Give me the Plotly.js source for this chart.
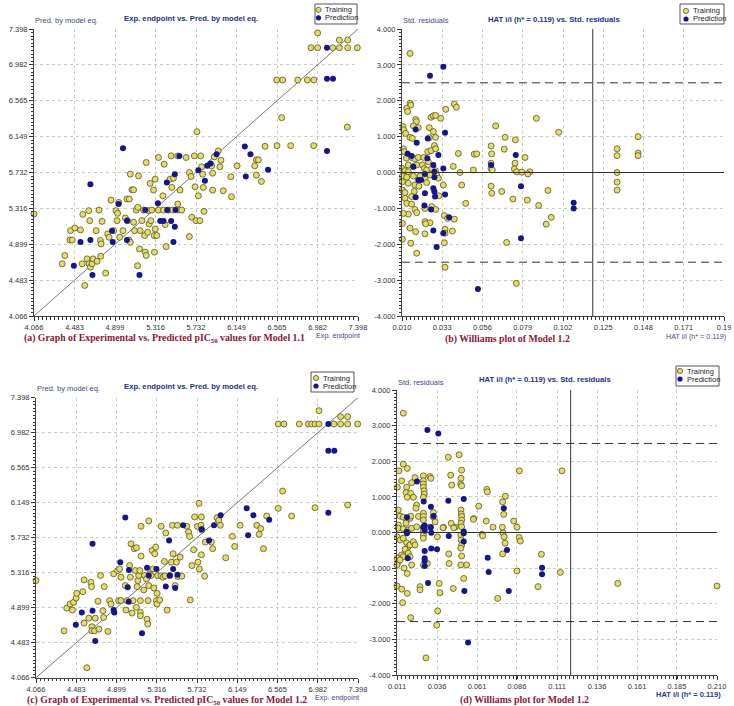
<!DOCTYPE html>
<html><head><meta charset="utf-8">
<script src="https://cdn.plot.ly/plotly-3.0.1.min.js"></script>
<style>html,body{margin:0;padding:0;background:#fff}#chart{width:734px;height:706px}</style>
</head><body><div id="chart"></div>
<script>
// ---------- DATA ----------
// (a) Model 1.1: [Exp. endpoint, Pred. by model eq.]
const trainA = [[6.983,7.352],[6.915,7.181],[6.983,7.181],[7.138,7.181],[7.206,7.270],[7.206,7.181],[7.292,7.270],[7.292,7.181],[7.391,7.181],
[6.562,6.806],[6.623,6.806],[6.778,6.806],[6.877,6.806],[6.945,6.806],[6.613,6.369],[7.288,6.260],[6.565,6.044],[6.706,6.044],[6.942,6.044],[5.742,6.206],
[4.066,5.25],[4.356,4.672],[4.383,4.768],[4.435,4.949],[4.459,4.949],[4.442,5.057],[4.486,5.088],[4.544,5.065],[4.561,4.672],[4.568,5.246],
[4.588,4.421],[4.612,4.729],[4.629,5.289],[4.639,5.173],[4.632,4.672],[4.646,4.633],[4.663,4.672],[4.674,4.729],[4.705,5.057],[4.715,4.701],
[4.735,5.296],[4.749,4.942],[4.756,4.903],[4.752,4.760],[4.766,5.165],[4.803,4.564],[4.824,5.019],[4.838,4.980],[4.858,5.412],[4.885,5.057],
[4.909,5.289],[4.926,5.258],[4.920,5.173],[4.947,4.980],[4.937,5.385],[4.981,5.057],[5.005,5.204],[5.022,5.424],[5.046,5.424],[5.029,5.173],
[5.042,4.949],[5.056,4.922],[5.056,5.713],[5.073,5.531],[5.090,5.531],[5.090,5.154],[5.100,5.057],[5.117,5.296],[5.134,5.327],[5.141,5.693],
[5.151,4.845],[5.131,4.649],[5.158,5.057],[5.175,5.173],[5.193,5.296],[5.204,5.000],[5.210,4.807],[5.220,4.768],[5.220,5.848],[5.234,5.038],
[5.244,5.289],[5.251,5.134],[5.261,5.605],[5.268,5.173],[5.278,5.296],[5.295,5.528],[5.302,5.000],[5.329,5.000],[5.305,4.807],[5.312,5.655],
[5.312,5.076],[5.346,5.906],[5.346,5.296],[5.391,5.462],[5.398,5.296],[5.405,5.828],[5.415,5.127],[5.425,4.872],[5.449,5.296],[5.466,5.655],
[5.483,5.558],[5.493,5.296],[5.500,5.666],[5.476,5.925],[5.544,5.925],[5.544,5.366],[5.558,5.296],[5.585,5.296],[5.568,5.528],[5.630,5.906],
[5.664,4.988],[5.664,5.732],[5.681,5.686],[5.688,5.212],[5.715,5.925],[5.722,5.566],[5.732,5.173],[5.756,5.462],[5.773,5.173],[5.780,5.925],
[5.790,5.798],[5.800,5.713],[5.807,5.558],[5.814,5.281],[5.893,5.809],[5.903,5.724],[5.903,5.528],[5.920,5.913],[5.961,5.983],[5.978,5.798],
[5.989,5.875],[6.012,5.520],[6.090,5.682],[6.097,5.451],[6.155,5.809],[6.336,5.809],[6.353,5.879],[6.374,5.879],[6.353,5.701],[6.405,5.628],[6.442,6.036]];
const predA = [[4.981,6.013],[4.646,5.597],[4.937,5.366],[4.476,4.649],[4.544,4.926],[4.646,4.949],[4.667,4.541],[4.868,5.057],[4.875,4.926],
[5.022,5.173],[5.022,4.949],[5.151,4.541],[5.210,5.296],[5.340,5.374],[5.364,5.169],[5.398,5.169],[5.432,5.616],[5.436,5.296],[5.476,5.169],
[5.500,4.926],[5.514,5.713],[5.514,5.103],[5.521,5.296],[5.561,5.925],[5.756,5.759],[5.824,5.636],[5.848,5.809],[5.882,5.836],[5.944,5.944],
[6.234,6.033],[6.244,5.686],[6.292,5.944],[6.473,5.763],[7.079,7.181],[7.079,6.821],[7.141,6.821],[7.079,5.982]];

// (b) Williams plot: [HAT i/i, Std. residuals]
const trainB = [[0.0146,3.32],[0.0146,1.93],[0.0150,1.88],[0.0127,1.79],[0.0132,1.70],[0.0399,1.91],[0.0411,1.82],[0.0350,1.76],[0.0266,1.54],
[0.0279,1.58],[0.0292,1.59],[0.0321,1.51],[0.0178,1.48],[0.0182,1.42],[0.0106,1.28],[0.0109,1.19],[0.0165,1.30],[0.0193,1.25],[0.0256,1.25],
[0.0279,1.14],[0.0121,1.09],[0.0146,0.98],[0.0159,0.95],[0.0292,0.98],[0.0256,0.97],[0.0635,1.30],[0.0689,0.98],[0.0748,0.91],[0.0609,0.74],
[0.0108,0.66],[0.0113,0.58],[0.0247,0.58],[0.0266,0.61],[0.0285,0.75],[0.0292,0.66],[0.0422,0.53],[0.0513,0.51],[0.0527,0.52],[0.0612,0.52],
[0.0684,0.65],[0.0803,0.42],[0.0746,0.26],[0.0125,0.40],[0.0155,0.42],[0.0174,0.38],[0.0193,0.42],[0.0224,0.42],[0.0250,0.30],[0.0136,0.21],
[0.0165,0.17],[0.0184,0.21],[0.0393,0.17],[0.0216,0.21],[0.0102,0.11],[0.0117,0.05],[0.0136,0.02],[0.0228,0.11],[0.0241,0.07],[0.0270,0.11],
[0.0292,0.05],[0.0431,0.00],[0.0508,0.07],[0.0609,0.11],[0.0616,0.07],[0.0609,0.26],[0.0742,0.10],[0.0755,0.02],[0.0784,0.01],[0.0102,-0.10],
[0.0127,-0.13],[0.0165,-0.10],[0.0203,-0.10],[0.0231,-0.16],[0.0260,-0.07],[0.0298,-0.07],[0.0308,-0.16],[0.0102,-0.26],[0.0136,-0.30],
[0.0174,-0.35],[0.0197,-0.38],[0.0241,-0.28],[0.0336,-0.35],[0.0441,-0.35],[0.0609,-0.38],[0.0613,-0.58],[0.0102,-0.49],[0.0117,-0.56],
[0.0170,-0.53],[0.0155,-0.67],[0.0311,-0.65],[0.0670,-0.53],[0.0734,-0.74],[0.0464,-0.86],[0.0117,-0.72],[0.0127,-0.86],[0.0155,-0.88],
[0.0174,-1.03],[0.0231,-1.00],[0.0270,-0.95],[0.0292,-1.03],[0.0136,-1.16],[0.0108,-1.14],[0.0184,-1.12],[0.0102,-1.42],[0.0231,-1.37],
[0.0260,-1.40],[0.0235,-1.43],[0.0342,-1.20],[0.0361,-1.28],[0.0399,-1.30],[0.0146,-1.55],[0.0178,-1.65],[0.0231,-1.71],[0.0346,-1.58],
[0.0346,-1.69],[0.0388,-1.63],[0.0102,-1.86],[0.0150,-1.97],[0.0342,-1.96],[0.0698,-1.95],[0.0184,-2.25],[0.0346,-2.64],[0.0868,1.51],
[0.0995,1.12],[0.1329,0.66],[0.1329,0.47],[0.1329,0.00],[0.1449,1.00],[0.1449,0.54],[0.1449,0.47],[0.0831,0.02],[0.0819,-0.04],[0.1329,-0.27],
[0.1329,-0.49],[0.0934,-0.50],[0.0881,-0.92],[0.0816,-0.77],[0.0924,-1.44],[0.0953,-1.25],[0.0753,-3.09],[0.1942,-1.62]];
const predB = [[0.0336,2.95],[0.0260,2.70],[0.0178,1.20],[0.0346,1.11],[0.0247,0.95],[0.0184,0.83],[0.0132,0.52],[0.0155,0.46],[0.0245,0.40],
[0.0308,0.49],[0.0609,0.21],[0.0750,0.49],[0.0279,0.21],[0.0336,0.11],[0.0165,0.16],[0.0285,0.02],[0.0193,-0.21],[0.0209,-0.21],[0.0285,-0.13],
[0.0231,-0.04],[0.0279,-0.44],[0.0285,-0.53],[0.0178,-0.69],[0.0231,-0.58],[0.0346,-0.61],[0.0289,-0.67],[0.0228,-0.92],[0.0266,-1.03],
[0.0369,-1.25],[0.0279,-1.62],[0.0336,-1.69],[0.0298,-2.08],[0.0780,-0.38],[0.0780,-1.83],[0.0534,-3.25],[0.1081,-0.84],[0.1081,-1.00]];

// (c) Model 1.2: [Exp. endpoint, Pred. by model eq.]
const trainC = [[6.994,7.243],[6.573,7.085],[6.632,7.085],[6.791,7.085],[6.884,7.085],[6.918,7.085],[6.953,7.085],[6.994,7.085],[7.149,7.085],
[7.218,7.085],[7.291,7.085],[7.394,7.085],[7.218,7.172],[7.291,7.172],[6.618,6.287],[6.573,6.081],[6.953,6.089],[7.291,6.121],[5.753,6.141],
[6.711,5.990],[6.453,5.990],[4.066,5.222],[4.357,4.624],[4.384,4.895],[4.443,4.871],[4.419,4.943],[4.454,4.963],[4.481,5.015],[4.488,5.070],
[4.550,5.090],[4.564,5.230],[4.564,4.716],[4.592,4.185],[4.613,4.775],[4.634,5.202],[4.641,5.150],[4.644,4.672],[4.644,4.624],[4.672,4.624],
[4.679,4.775],[4.707,4.975],[4.717,4.644],[4.734,5.282],[4.758,4.863],[4.765,4.783],[4.772,5.150],[4.810,4.616],[4.828,4.983],[4.842,4.943],
[4.869,5.302],[4.911,5.341],[4.921,4.983],[4.945,4.983],[4.931,5.361],[4.945,5.262],[4.990,5.162],[4.997,4.871],[5.008,4.983],[5.035,5.401],
[5.042,5.262],[5.049,5.660],[5.060,4.835],[5.070,4.983],[5.084,5.601],[5.105,5.613],[5.094,5.341],[5.105,4.903],[5.112,5.150],[5.119,5.222],
[5.129,5.282],[5.140,5.341],[5.146,4.983],[5.146,4.843],[5.146,4.803],[5.153,5.868],[5.153,5.513],[5.181,5.110],[5.188,5.282],[5.209,5.242],
[5.215,4.763],[5.222,4.704],[5.226,4.983],[5.233,5.931],[5.233,5.162],[5.243,5.302],[5.257,5.282],[5.267,5.581],[5.278,5.361],[5.285,5.134],
[5.305,5.620],[5.295,5.541],[5.312,4.983],[5.319,4.943],[5.319,5.070],[5.326,5.282],[5.346,4.991],[5.361,5.868],[5.361,5.278],[5.381,5.262],
[5.395,5.449],[5.402,5.278],[5.409,5.788],[5.423,4.871],[5.451,5.282],[5.468,5.441],[5.478,5.880],[5.485,5.541],[5.506,5.162],[5.520,5.441],
[5.530,5.880],[5.534,5.270],[5.558,5.501],[5.575,5.274],[5.627,5.868],[5.645,5.800],[5.655,5.748],[5.662,4.991],[5.679,5.401],[5.697,5.589],
[5.707,5.979],[5.735,5.868],[5.742,5.441],[5.756,5.361],[5.773,5.880],[5.777,5.979],[5.777,5.529],[5.783,5.824],[5.811,5.274],[5.818,5.680],
[5.880,5.680],[5.894,5.601],[5.939,5.971],[5.957,5.939],[5.974,5.880],[6.029,5.493],[6.098,5.748],[6.122,5.628],[6.178,5.880],[6.351,5.880],
[6.392,5.840],[6.375,5.772],[6.420,5.601]];
const predC = [[4.990,5.971],[4.651,5.660],[4.938,5.441],[5.028,5.349],[5.015,5.142],[4.478,4.696],[4.540,4.843],[4.651,4.863],[4.679,4.504],
[4.869,4.871],[4.876,4.843],[5.025,4.971],[5.163,4.596],[5.215,5.373],[5.233,5.282],[5.312,5.361],[5.409,5.150],[5.443,5.700],[5.451,5.282],
[5.485,5.361],[5.506,5.134],[5.530,5.290],[5.589,5.880],[5.780,5.832],[5.856,5.700],[5.908,5.880],[5.977,5.999],[6.261,5.760],[6.316,5.999],
[6.479,5.947],[6.246,6.081],[7.091,7.085],[7.091,6.767],[7.153,6.767],[7.091,6.029]];

// (d) Williams plot: [HAT i/i, Std. residuals]
const trainD = [[0.0149,3.35],[0.0429,2.11],[0.0496,2.18],[0.0149,1.92],[0.0174,1.80],[0.0122,1.73],[0.0512,1.75],[0.0871,1.73],[0.1136,1.73],
[0.0139,1.45],[0.0112,1.27],[0.0170,1.27],[0.0201,1.40],[0.0222,1.54],[0.0166,1.12],[0.0195,1.10],[0.0174,0.99],[0.0212,0.99],[0.0274,1.59],
[0.0315,1.57],[0.0321,1.52],[0.0274,1.45],[0.0274,1.36],[0.0274,1.27],[0.0278,1.17],[0.0280,1.08],[0.0274,0.99],[0.0444,1.61],[0.0450,1.33],
[0.0508,1.52],[0.0506,1.36],[0.0512,1.31],[0.0668,1.21],[0.0672,1.14],[0.0784,1.02],[0.0767,0.86],[0.0774,0.51],[0.0836,0.32],[0.0856,0.15],
[0.0618,0.74],[0.0665,0.32],[0.0587,0.39],[0.0639,-0.05],[0.0769,-0.01],[0.0118,0.63],[0.0129,0.46],[0.0149,0.43],[0.0170,0.35],[0.0166,0.26],
[0.0191,0.40],[0.0195,0.46],[0.0118,0.21],[0.0118,0.12],[0.0149,0.10],[0.0180,0.07],[0.0201,0.12],[0.0232,0.77],[0.0228,0.68],[0.0232,0.16],
[0.0243,0.45],[0.0274,0.54],[0.0274,0.45],[0.0274,0.35],[0.0274,0.12],[0.0274,0.02],[0.0274,-0.07],[0.0274,-0.16],[0.0315,0.15],[0.0336,0.56],
[0.0347,0.30],[0.0399,0.15],[0.0447,0.26],[0.0472,0.15],[0.0508,0.63],[0.0510,0.52],[0.0512,0.45],[0.0512,0.35],[0.0508,0.26],[0.0512,0.16],
[0.0585,0.37],[0.0643,-0.09],[0.0707,0.15],[0.0765,0.15],[0.0112,-0.13],[0.0129,-0.21],[0.0149,-0.16],[0.0170,-0.29],[0.0180,-0.40],
[0.0191,-0.35],[0.0212,-0.26],[0.0222,-0.35],[0.0160,-0.47],[0.0139,-0.63],[0.0149,-0.68],[0.0118,-0.82],[0.0110,-0.91],[0.0112,-0.72],
[0.0129,-0.77],[0.0180,-0.58],[0.0191,-0.68],[0.0201,-0.91],[0.0154,-1.00],[0.0174,-1.15],[0.0110,-1.50],[0.0139,-1.59],[0.0174,-1.71],
[0.0145,-1.97],[0.0195,-2.39],[0.0253,-1.52],[0.0253,-1.61],[0.0299,-0.87],[0.0274,-0.91],[0.0361,-0.12],[0.0357,-2.60],[0.0373,-1.43],
[0.0377,-1.69],[0.0363,-2.20],[0.0432,-0.60],[0.0434,-0.87],[0.0460,-1.57],[0.0507,-0.07],[0.0509,-0.21],[0.0512,-0.35],[0.0507,-0.44],
[0.0512,-0.66],[0.0507,-0.91],[0.0525,-1.29],[0.0543,-0.91],[0.0290,-3.52],[0.0736,-1.85],[0.0767,-0.60],[0.0782,-0.30],[0.0776,-0.12],
[0.0870,-0.14],[0.0856,-1.08],[0.1008,-0.61],[0.0987,-1.52],[0.1126,-1.12],[0.1483,-1.43],[0.2100,-1.50],[0.0877,-0.24],[0.0396,0.13],
[0.0463,0.13],[0.0334,0.44]];
const predD = [[0.0299,2.88],[0.0367,2.78],[0.0234,1.43],[0.0429,0.89],[0.0276,0.87],[0.0321,0.72],[0.0338,0.46],[0.0525,0.94],[0.0774,0.68],
[0.0172,0.43],[0.0321,0.15],[0.0274,0.16],[0.0170,0.02],[0.0172,-0.02],[0.0177,-0.72],[0.0282,-0.52],[0.0282,-0.72],[0.0282,-0.80],
[0.0282,-0.94],[0.0303,-1.42],[0.0323,-0.45],[0.0359,-0.47],[0.0432,-0.10],[0.0525,-0.02],[0.0525,0.03],[0.0525,-0.25],[0.0529,-1.64],
[0.0552,-3.09],[0.0674,-0.71],[0.0680,-1.11],[0.0794,-0.49],[0.0805,-1.64],[0.1012,-0.99],[0.1012,-1.17],[0.0323,-0.01],[0.0282,0.05],[0.0282,0.20]];

// Tick labels and reference lines
const expTicks = [4.066,4.483,4.899,5.316,5.732,6.149,6.565,6.982,7.398];
const expTickText = ['4.066','4.483','4.899','5.316','5.732','6.149','6.565','6.982','7.398'];
const resTicks = [-4,-3,-2,-1,0,1,2,3,4];
const resTickText = ['-4.000','-3.000','-2.000','-1.000','0.000','1.000','2.000','3.000','4.000'];
const hatTicksB = [0.010,0.033,0.056,0.079,0.102,0.125,0.148,0.171,0.194];
const hatTextB = ['0.010','0.033','0.056','0.079','0.102','0.125','0.148','0.171','0.19'];
const hatTicksD = [0.011,0.0359,0.0608,0.0856,0.1105,0.1354,0.1603,0.1851,0.210];
const hatTextD = ['0.011','0.036','0.061','0.086','0.111','0.136','0.161','0.185','0.210'];
const diagLine = [4.066,7.398];
const hStar = 0.119;
const resLimit = 2.5;
const seriesNames = ['Training','Prediction'];

// ---------- STYLE / LAYOUT ----------
const W = 734, H = 706;
const px = x => x / W;
const py = y => 1 - y / H;
const TRAIN_FILL = '#e4dc66', TRAIN_LINE = '#55552a', PRED = '#15158c';
const NAVY = '#23308c', CAP = '#8a1838';

function axis(domain, range, tv, tt, minorStep, anchor){
  return {domain, range, anchor, tickmode:'array', tickvals:tv, ticktext:tt,
    ticks:'outside', ticklen:4, tickwidth:1, tickcolor:'#333', ticklabelstandoff:0,
    showline:true, linecolor:'#444', linewidth:1,
    showgrid:true, gridcolor:'#c3d2bf', griddash:'dot', gridwidth:1, zeroline:false,
    tickfont:{family:'Liberation Sans, Arial, sans-serif', size:7.5, color:'#333'},
    minor:{tick0:range[0], dtick:minorStep, ticks:'outside', ticklen:2.5, tickwidth:1, tickcolor:'#333', showgrid:false},
    fixedrange:true};
}

function pts(arr, name, xa, ya){
  const train = name === seriesNames[0];
  return {type:'scatter', mode:'markers', name, x:arr.map(p=>p[0]), y:arr.map(p=>p[1]),
    xaxis:xa, yaxis:ya, cliponaxis:false, showlegend:false, hoverinfo:'x+y',
    marker: train ? {size:6, color:TRAIN_FILL, line:{color:TRAIN_LINE, width:0.8}}
                  : {size:6, color:PRED, line:{color:PRED, width:0}}};
}

const traces = [
  {type:'scatter', mode:'lines', x:diagLine, y:diagLine, xaxis:'x', yaxis:'y', line:{color:'#777', width:1}, showlegend:false, hoverinfo:'skip'},
  {type:'scatter', mode:'lines', x:diagLine, y:diagLine, xaxis:'x3', yaxis:'y3', line:{color:'#777', width:1}, showlegend:false, hoverinfo:'skip'},
  pts(trainA, seriesNames[0], 'x', 'y'), pts(predA, seriesNames[1], 'x', 'y'),
  pts(trainB, seriesNames[0], 'x2', 'y2'), pts(predB, seriesNames[1], 'x2', 'y2'),
  pts(trainC, seriesNames[0], 'x3', 'y3'), pts(predC, seriesNames[1], 'x3', 'y3'),
  pts(trainD, seriesNames[0], 'x4', 'y4'), pts(predD, seriesNames[1], 'x4', 'y4')
];

const expRange = [expTicks[0], expTicks[expTicks.length-1]];
const resRange = [resTicks[0], resTicks[resTicks.length-1]];
const bRange = [hatTicksB[0], hatTicksB[hatTicksB.length-1]];
const dRange = [hatTicksD[0], hatTicksD[hatTicksD.length-1]];
const expStep = (expRange[1]-expRange[0])/80;

const layout = {
  width:W, height:H, margin:{l:0,r:0,t:0,b:0}, paper_bgcolor:'#fff', plot_bgcolor:'#fff', showlegend:false,
  xaxis:  axis([px(34), px(358)], expRange, expTicks, expTickText, expStep, 'y'),
  yaxis:  axis([py(316), py(29)], expRange, expTicks, expTickText, expStep, 'x'),
  xaxis2: axis([px(402), px(724)], bRange, hatTicksB, hatTextB, (bRange[1]-bRange[0])/80, 'y2'),
  yaxis2: axis([py(316), py(29)], resRange, resTicks, resTickText, 0.1, 'x2'),
  xaxis3: axis([px(36), px(358)], expRange, expTicks, expTickText, expStep, 'y3'),
  yaxis3: axis([py(677.7), py(397.7)], expRange, expTicks, expTickText, expStep, 'x3'),
  xaxis4: axis([px(397), px(717)], dRange, hatTicksD, hatTextD, (dRange[1]-dRange[0])/80, 'y4'),
  yaxis4: axis([py(675), py(390)], resRange, resTicks, resTickText, 0.1, 'x4'),
  shapes: [], annotations: []
};

// Williams plot reference lines
[['x2','y2',bRange],['x4','y4',dRange]].forEach(([xr,yr,xrng])=>{
  const base = {type:'line', xref:xr, yref:yr, layer:'above'};
  layout.shapes.push(Object.assign({}, base, {x0:xrng[0], x1:xrng[1], y0:resLimit, y1:resLimit, line:{color:'#333', width:1, dash:'8px,5px'}}));
  layout.shapes.push(Object.assign({}, base, {x0:xrng[0], x1:xrng[1], y0:-resLimit, y1:-resLimit, line:{color:'#333', width:1, dash:'8px,5px'}}));
  layout.shapes.push(Object.assign({}, base, {x0:xrng[0], x1:xrng[1], y0:0, y1:0, line:{color:'#333', width:1}}));
  layout.shapes.push(Object.assign({}, base, {x0:hStar, x1:hStar, y0:resRange[0], y1:resRange[1], line:{color:'#333', width:1}}));
});

function txt(text, x, y, o){
  o = o || {};
  layout.annotations.push({text, xref:'paper', yref:'paper', x:px(x), y:py(y), showarrow:false,
    xanchor:o.xanchor||'center', yanchor:'middle',
    font:{family:o.family||'Liberation Sans, Arial, sans-serif', size:o.size||7.5, color:o.color||NAVY, weight:o.bold?'bold':'normal'}});
}

// Custom legends (box, markers, labels)
function legend(x0, y0, x1, y1, dotX, dotY1, dotY2, textX){
  layout.shapes.push({type:'rect', xref:'paper', yref:'paper', x0:px(x0), x1:px(x1), y0:py(y1), y1:py(y0), line:{color:'#555', width:1}, fillcolor:'#fff', layer:'above'});
  const r = 2.6;
  layout.shapes.push({type:'circle', xref:'paper', yref:'paper', x0:px(dotX-r), x1:px(dotX+r), y0:py(dotY1+r), y1:py(dotY1-r), fillcolor:TRAIN_FILL, line:{color:TRAIN_LINE, width:0.8}, layer:'above'});
  layout.shapes.push({type:'circle', xref:'paper', yref:'paper', x0:px(dotX-r), x1:px(dotX+r), y0:py(dotY2+r), y1:py(dotY2-r), fillcolor:PRED, line:{color:PRED, width:0}, layer:'above'});
  txt(seriesNames[0], textX, dotY1, {xanchor:'left', size:7.5, color:'#222'});
  txt(seriesNames[1], textX, dotY2, {xanchor:'left', size:7.5, color:'#222'});
}

const SERIF = 'Liberation Serif, Times New Roman, serif';
// Panel (a)
txt('Pred. by model eq.', 33, 20, {xanchor:'left', color:'#3c4a8a'});
txt('Exp. endpoint vs. Pred. by model eq.', 191, 18.5, {bold:true, size:7.7});
legend(315, 4, 357, 24, 318.5, 9.8, 17.8, 323);
txt('Exp. endpoint', 362, 335, {xanchor:'right', color:'#3c4a8a', size:7.2});
txt('(a) Graph of Experimental vs. Predicted pIC<sub>50</sub> values for Model 1.1', 164.5, 338, {family:SERIF, size:9.8, bold:true, color:CAP});

// Panel (b)
txt('Std. residuals', 401, 20, {xanchor:'left', color:'#3c4a8a'});
txt('HAT i/i (h* = 0.119) vs. Std. residuals', 554, 19.5, {bold:true, size:7.7});
legend(680, 4, 724, 24, 686, 11, 19, 691);
txt('HAT i/i (h* = 0.119)', 728, 336.5, {xanchor:'right', color:'#3c4a8a', size:7.2});
txt('(b) Williams plot of Model 1.2', 507.5, 339, {family:SERIF, size:9.8, bold:true, color:CAP});

// Panel (c)
txt('Pred. by model eq.', 35, 388, {xanchor:'left', color:'#3c4a8a'});
txt('Exp. endpoint vs. Pred. by model eq.', 191, 386, {bold:true, size:7.7});
legend(311, 372, 354, 392, 316, 378, 386, 321);
txt('Exp. endpoint', 361, 697, {xanchor:'right', color:'#3c4a8a', size:7.2});
txt('(c) Graph of Experimental vs. Predicted pIC<sub>50</sub> values for Model 1.2', 166.5, 699.5, {family:SERIF, size:9.8, bold:true, color:CAP});

// Panel (d)
txt('Std. residuals', 396, 382, {xanchor:'left', color:'#3c4a8a'});
txt('HAT i/i (h* = 0.119) vs. Std. residuals', 545, 380, {bold:true, size:7.7});
legend(676, 366, 719, 386, 680, 371, 379, 685);
txt('HAT i/i (h* = 0.119)', 723, 694, {xanchor:'right', bold:true, size:7.5, color:'#1e3aa8'});
txt('(d) Williams plot for Model 1.2', 524, 699.5, {family:SERIF, size:9.8, bold:true, color:CAP});

Plotly.newPlot('chart', traces, layout, {staticPlot:true, displayModeBar:false});
</script>
</body></html>
